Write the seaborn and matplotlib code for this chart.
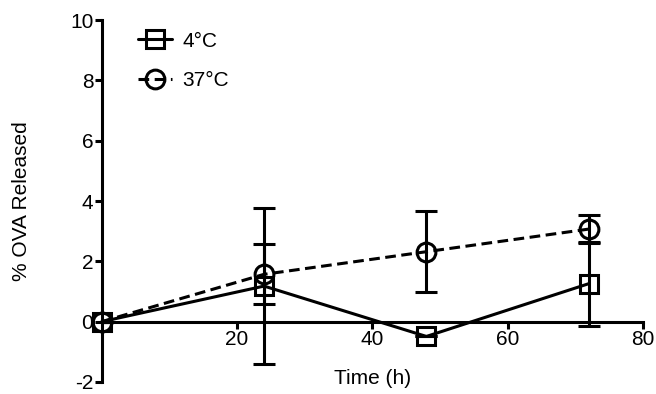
import numpy as np
import matplotlib
matplotlib.use('Agg')
import matplotlib.pyplot as plt
import pandas as pd
import seaborn as sns

# data
time_h = [0, 24, 48, 72]
conds = ['4°C', '37°C']
release_4c = [0.0, 1.18, -0.49, 1.26]
err_4c = [0.0, 2.6, 0.0, 1.39]
release_37c = [0.0, 1.57, 2.32, 3.07]
err_37c = [0.0, 1.0, 1.35, 0.46]

df = pd.DataFrame({
    'Time': time_h * 2,
    'Released': release_4c + release_37c,
    'cond': [conds[0]] * 4 + [conds[1]] * 4,
})

sns.set_style('ticks')
plt.rcParams['font.family'] = ['Liberation Sans', 'DejaVu Sans']
plt.rcParams['axes.unicode_minus'] = False
plt.rcParams['text.color'] = 'k'
plt.rcParams['axes.labelcolor'] = 'k'
plt.rcParams['xtick.color'] = 'k'
plt.rcParams['ytick.color'] = 'k'

fig = plt.figure(figsize=(6.56, 3.94), dpi=100)
ax = fig.add_axes([0.155, 0.0305, 0.825, 0.9185])

lw = 2.2
sns.lineplot(data=df, x='Time', y='Released', style='cond', style_order=conds,
             markers={'4°C': 's', '37°C': 'o'}, dashes={'4°C': '', '37°C': (3.5, 1.8)},
             color='k', linewidth=lw, markersize=13.5, markerfacecolor='none',
             markeredgecolor='k', markeredgewidth=lw, legend=False, ax=ax,
             clip_on=False)
series_lines = list(ax.lines)

ax.errorbar(time_h, release_4c, yerr=err_4c, fmt='none', ecolor='k',
            elinewidth=lw, capsize=8, capthick=lw)
ax.errorbar(time_h, release_37c, yerr=err_37c, fmt='none', ecolor='k',
            elinewidth=lw, capsize=8, capthick=lw)

ax.set_xlim(0, 80)
ax.set_ylim(-2, 10)
ax.set_xticks([20, 40, 60, 80])
ax.set_yticks([-2, 0, 2, 4, 6, 8, 10])
ax.spines['bottom'].set_position(('data', 0))
ax.spines['top'].set_visible(False)
ax.spines['right'].set_visible(False)
for s in ['left', 'bottom']:
    ax.spines[s].set_linewidth(lw)
    ax.spines[s].set_color('k')
ax.tick_params(width=lw, length=5, labelsize=15, pad=1, color='k', labelcolor='k')

ax.set_xlabel('Time (h)', fontsize=15)
ax.set_ylabel('% OVA Released', fontsize=15)
ax.xaxis.set_label_coords(0.5, 0.035)
ax.yaxis.set_label_coords(-0.13, 0.5)

ax.legend(series_lines, conds, loc='upper left', bbox_to_anchor=(0.033, 1.02),
          frameon=False, fontsize=15, handlelength=1.6, handletextpad=0.5,
          labelspacing=1.0)

for sp in ax.spines.values():
    sp.set_clip_on(False)
plt.savefig('out.png', dpi=100)
